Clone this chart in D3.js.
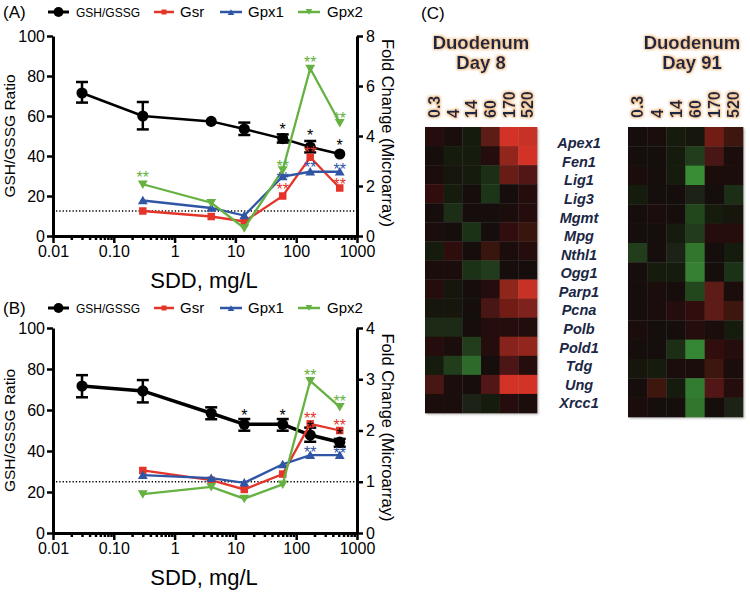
<!DOCTYPE html>
<html><head><meta charset="utf-8">
<script src="https://cdn.jsdelivr.net/npm/d3@7"></script>
<style>body{margin:0;background:#fff} svg{display:block;font-family:"Liberation Sans",Arial,sans-serif}</style>
</head><body><svg id="c" width="750" height="592"></svg>
<script>
// ---------- data ----------
const doses = [0.03, 0.3, 4, 14, 60, 170, 520];
const geneDoses = [0.3, 4, 14, 60, 170, 520];
const xTickValues = [0.01, 0.1, 1, 10, 100, 1000];
const xTickLabels = ["0.01", "0.10", "1", "10", "100", "1000"];
const leftTicks = [0, 20, 40, 60, 80, 100];

const A_gsh   = [71.5, 60, 57.3, 53.5, 48.7, 44.5, 41];
const A_gshLo = [66.7, 53.3, null, 50.5, 46.7, 41.8, null];
const A_gshHi = [77.0, 67.0, null, 56.7, 50.8, 47.5, null];
const A_gsr   = [1.0, 0.78, 0.58, 1.6, 3.15, 1.92];
const A_gpx1  = [1.42, 1.12, 0.82, 2.38, 2.57, 2.57];
const A_gpx2  = [2.07, 1.33, 0.32, 2.64, 6.7, 4.53];
const A_rightTicks = [0, 2, 4, 6, 8];

const B_gsh   = [71.7, 69.3, 58.4, 53, 53, 47.8, 44.3];
const B_gshLo = [66.2, 63.7, 55.5, 49.9, 49.9, 44.5, 42.1];
const B_gshHi = [77.0, 74.6, 61.3, 55.6, 55.6, 51.4, 45.9];
const B_gsr   = [1.22, 1.03, 0.85, 1.15, 2.13, 2.0];
const B_gpx1  = [1.13, 1.07, 0.98, 1.34, 1.52, 1.52];
const B_gpx2  = [0.76, 0.9, 0.67, 0.95, 2.97, 2.46];
const B_rightTicks = [0, 1, 2, 3, 4];

// significance marks: [series, dose, value (in that series' axis units), text]
const A_stars = [
  ["gsh", 60, 55, "*"], ["gsh", 170, 52.2, "*"], ["gsh", 520, 47.2, "*"],
  ["gsr", 60, 2.0, "**"], ["gsr", 170, 3.48, "**"], ["gsr", 520, 2.2, "**"],
  ["gpx1", 60, 2.45, "**"], ["gpx1", 170, 2.88, "**"], ["gpx1", 520, 2.8, "**"],
  ["gpx2", 0.3, 2.48, "**"], ["gpx2", 60, 2.93, "**"], ["gpx2", 170, 7.08, "**"], ["gpx2", 520, 4.84, "**"]
];
const B_stars = [
  ["gsh", 14, 59.2, "*"], ["gsh", 60, 59.2, "*"], ["gsh", 170, 53.2, "*"], ["gsh", 520, 49.9, "*"],
  ["gsr", 170, 2.3, "**"], ["gsr", 520, 2.17, "**"],
  ["gpx1", 170, 1.64, "**"], ["gpx1", 520, 1.62, "**"],
  ["gpx2", 170, 3.15, "**"], ["gpx2", 520, 2.64, "**"]
];

const legendLabels = ["GSH/GSSG", "Gsr", "Gpx1", "Gpx2"];

const genes = ["Apex1","Fen1","Lig1","Lig3","Mgmt","Mpg","Nthl1","Ogg1","Parp1","Pcna","Polb","Pold1","Tdg","Ung","Xrcc1"];
const heatCols = ["0.3","4","14","60","170","520"];
const day8 = [
  [0.10, 0.05, -0.10, 0.35, 0.90, 0.85],
  [0.00, -0.10, -0.10, 0.10, 0.60, 0.90],
  [0.05, -0.05, -0.10, -0.20, 0.40, 0.30],
  [0.15, -0.10, 0.00, -0.25, 0.00, 0.10],
  [0.00, -0.20, 0.03, 0.00, 0.05, 0.10],
  [0.05, 0.00, -0.22, 0.00, 0.15, 0.18],
  [-0.10, 0.13, 0.00, 0.18, 0.05, 0.10],
  [0.05, 0.05, -0.22, -0.28, 0.00, 0.03],
  [0.10, -0.08, 0.00, 0.10, 0.58, 0.85],
  [-0.05, -0.08, 0.00, 0.25, 0.45, 0.50],
  [-0.18, -0.18, 0.00, 0.10, 0.10, 0.08],
  [0.10, 0.05, -0.30, 0.10, 0.55, 0.60],
  [-0.10, -0.30, -0.55, 0.03, 0.28, 0.10],
  [0.25, 0.05, 0.03, 0.30, 0.90, 0.90],
  [0.05, 0.05, -0.15, -0.12, 0.10, 0.05]
];
const day91 = [
  [0.00, 0.05, -0.10, -0.05, 0.45, 0.20],
  [0.00, 0.00, -0.10, -0.30, 0.25, 0.05],
  [0.05, 0.00, -0.10, -0.75, 0.05, 0.05],
  [-0.10, 0.00, 0.00, -0.15, 0.00, -0.20],
  [0.00, 0.05, 0.00, -0.35, -0.10, -0.05],
  [0.03, 0.00, -0.10, -0.28, 0.10, 0.10],
  [-0.30, 0.00, -0.15, -0.62, 0.00, -0.10],
  [0.03, -0.10, -0.10, -0.68, 0.00, -0.22],
  [0.00, 0.05, 0.00, -0.35, 0.35, 0.05],
  [0.00, 0.05, 0.10, 0.15, 0.35, 0.20],
  [0.05, 0.00, 0.00, 0.10, 0.05, -0.10],
  [0.00, 0.00, -0.20, -0.72, 0.15, 0.10],
  [-0.05, -0.10, 0.05, 0.05, 0.20, 0.05],
  [0.00, 0.20, -0.10, -0.65, 0.30, 0.10],
  [0.05, 0.00, 0.00, -0.62, 0.00, -0.15]
];

// ---------- drawing ----------
const svg = d3.select("#c");
const defs = svg.append("defs");
const glow = defs.append("filter").attr("id","glow").attr("x","-20%").attr("y","-40%").attr("width","140%").attr("height","180%");
glow.append("feMorphology").attr("in","SourceAlpha").attr("operator","dilate").attr("radius",0.5).attr("result","d");
glow.append("feGaussianBlur").attr("in","d").attr("stdDeviation",1.2).attr("result","b");
glow.append("feFlood").attr("flood-color","#e9a04a").attr("flood-opacity",0.6);
glow.append("feComposite").attr("in2","b").attr("operator","in").attr("result","g");
const gm = glow.append("feMerge"); gm.append("feMergeNode").attr("in","g"); gm.append("feMergeNode").attr("in","SourceGraphic");
const soft = defs.append("filter").attr("id","soft").attr("x","-5%").attr("y","-5%").attr("width","110%").attr("height","110%");
soft.append("feGaussianBlur").attr("stdDeviation",0.7);
const shadow = defs.append("filter").attr("id","shadow").attr("x","-10%").attr("y","-10%").attr("width","120%").attr("height","120%");
shadow.append("feGaussianBlur").attr("stdDeviation",1.2);

const colors = {gsh:"#000000", gsr:"#e5352b", gpx1:"#2f55a4", gpx2:"#65b141"};
const x = d3.scaleLog().domain([0.01, 1000]).range([53, 357]);
const minorTicks = [];
[0.01, 0.1, 1, 10, 100].forEach(d => { for (let k = 2; k <= 9; k++) minorTicks.push(d * k); });

function marker(g, type, cx, cy, s, color) {
  if (type === "gsh") g.append("circle").attr("cx", cx).attr("cy", cy).attr("r", s * 0.62).attr("fill", color);
  else if (type === "gsr") g.append("rect").attr("x", cx - s/2).attr("y", cy - s/2).attr("width", s).attr("height", s).attr("fill", color);
  else if (type === "gpx1") g.append("path").attr("d", d3.symbol(d3.symbolTriangle, s*s*0.75)()).attr("transform", `translate(${cx},${cy+1})`).attr("fill", color);
  else g.append("path").attr("d", d3.symbol(d3.symbolTriangle, s*s*0.75)()).attr("transform", `translate(${cx},${cy-1}) rotate(180)`).attr("fill", color);
}

function panel(cfg) {
  const yL = d3.scaleLinear().domain([0, 100]).range([cfg.bottom, cfg.top]);
  const yR = d3.scaleLinear().domain([0, cfg.rmax]).range([cfg.bottom, cfg.top]);
  const g = svg.append("g");

  // reference line at fold change 1
  g.append("line").attr("x1", x(0.01) + 3).attr("x2", x(1000) - 2)
    .attr("y1", yR(1)).attr("y2", yR(1))
    .attr("stroke", "#000").attr("stroke-width", 1.3).attr("stroke-dasharray", "1.3,2");

  const styleAxis = a => {
    a.attr("font-family", '"Liberation Sans",Arial,sans-serif').attr("font-size", 16);
    a.selectAll("path").attr("stroke-width", 3).attr("stroke", "#000");
    a.selectAll("line").attr("stroke-width", 2.5).attr("stroke", "#000");
    a.selectAll("text").attr("fill", "#000");
  };
  styleAxis(g.append("g").attr("transform", `translate(0,${cfg.bottom})`)
    .call(d3.axisBottom(x).tickValues(minorTicks).tickFormat("").tickSize(4).tickSizeOuter(0)));
  styleAxis(g.append("g").attr("transform", `translate(0,${cfg.bottom})`)
    .call(d3.axisBottom(x).tickValues(xTickValues).tickFormat((d, i) => xTickLabels[i]).tickSize(7).tickPadding(3).tickSizeOuter(0)));
  styleAxis(g.append("g").attr("transform", `translate(${x(0.01)},0)`)
    .call(d3.axisLeft(yL).tickValues(leftTicks).tickFormat(d3.format("d")).tickSize(6).tickPadding(2).tickSizeOuter(0)));
  styleAxis(g.append("g").attr("transform", `translate(${x(1000)},0)`)
    .call(d3.axisRight(yR).tickValues(cfg.rticks).tickFormat(d3.format("d")).tickSize(6).tickPadding(3).tickSizeOuter(0)));

  // titles
  g.append("text").attr("transform", `translate(15,${(cfg.top + cfg.bottom) / 2}) rotate(-90)`)
    .attr("text-anchor", "middle").attr("font-size", 15.5).text("GSH/GSSG Ratio");
  g.append("text").attr("transform", `translate(382,${(cfg.top + cfg.bottom) / 2 - 3}) rotate(90)`)
    .attr("text-anchor", "middle").attr("font-size", 16.5).text("Fold Change (Microarray)");
  g.append("text").attr("x", 204).attr("y", cfg.bottom + 52).attr("text-anchor", "middle")
    .attr("font-size", 22).text("SDD, mg/L");

  // GSH/GSSG series with error bars
  const gshData = doses.map((d, i) => ({x: d, v: cfg.gsh[i], lo: cfg.lo[i], hi: cfg.hi[i]}));
  g.append("path").datum(gshData).attr("fill", "none").attr("stroke", "#000").attr("stroke-width", cfg.gshW)
    .attr("d", d3.line().x(d => x(d.x)).y(d => yL(d.v)));
  gshData.filter(d => d.lo != null).forEach(d => {
    const cx = x(d.x);
    g.append("line").attr("x1", cx).attr("x2", cx).attr("y1", yL(d.lo)).attr("y2", yL(d.hi)).attr("stroke", "#000").attr("stroke-width", 2.5);
    [d.lo, d.hi].forEach(v => g.append("line").attr("x1", cx - 6).attr("x2", cx + 6).attr("y1", yL(v)).attr("y2", yL(v)).attr("stroke", "#000").attr("stroke-width", 2.5));
  });
  gshData.forEach(d => marker(g, "gsh", x(d.x), yL(d.v), 9, "#000"));

  // fold change series
  [["gsr", cfg.gsr], ["gpx1", cfg.gpx1], ["gpx2", cfg.gpx2]].forEach(([k, vals]) => {
    const data = geneDoses.map((d, i) => ({x: d, v: vals[i]}));
    g.append("path").datum(data).attr("fill", "none").attr("stroke", colors[k]).attr("stroke-width", 2.3)
      .attr("d", d3.line().x(d => x(d.x)).y(d => yR(d.v)));
    data.forEach(d => marker(g, k, x(d.x), yR(d.v), 7.5, colors[k]));
  });

  // significance marks
  cfg.stars.forEach(([k, dose, v, t]) => {
    const yy = k === "gsh" ? yL(v) : yR(v);
    g.append("text").attr("x", x(dose)).attr("y", yy).attr("dy", "0.57em").attr("text-anchor", "middle")
      .attr("font-size", 16).attr("fill", colors[k]).text(t);
  });

  // legend
  const ly = cfg.legendY;
  g.append("text").attr("x", 3).attr("y", ly + 6).attr("font-size", 17).text(cfg.tag);
  const items = [
    {k: "gsh", x0: 48, x1: 69, tx: 76, fs: 12},
    {k: "gsr", x0: 154, x1: 174, tx: 180, fs: 15},
    {k: "gpx1", x0: 220, x1: 242, tx: 248, fs: 15},
    {k: "gpx2", x0: 298, x1: 320, tx: 327, fs: 15}
  ];
  items.forEach((it, i) => {
    g.append("line").attr("x1", it.x0).attr("x2", it.x1).attr("y1", ly).attr("y2", ly)
      .attr("stroke", colors[it.k]).attr("stroke-width", it.k === "gsh" ? 3 : 2.5);
    marker(g, it.k, (it.x0 + it.x1) / 2, ly, it.k === "gsh" ? 8 : 5, colors[it.k]);
    g.append("text").attr("x", it.tx).attr("y", ly + 5).attr("font-size", it.fs).text(legendLabels[i]);
  });
}

panel({tag: "(A)", legendY: 12, top: 36, bottom: 236, rmax: 8, rticks: A_rightTicks, gshW: 2.5,
  gsh: A_gsh, lo: A_gshLo, hi: A_gshHi, gsr: A_gsr, gpx1: A_gpx1, gpx2: A_gpx2, stars: A_stars});
panel({tag: "(B)", legendY: 308, top: 328, bottom: 533, rmax: 4, rticks: B_rightTicks, gshW: 3.5,
  gsh: B_gsh, lo: B_gshLo, hi: B_gshHi, gsr: B_gsr, gpx1: B_gpx1, gpx2: B_gpx2, stars: B_stars});

// ---------- heatmaps ----------
svg.append("text").attr("x", 421).attr("y", 19).attr("font-size", 17).text("(C)");
const heatColor = d3.scaleLinear().domain([-1, 0, 1]).range(["#44b844", "#120a0a", "#e8382a"]).clamp(true);
const navy = "#1b2744";

function heatmap(data, x0, x1, y0, y1, dayLabel, titleX) {
  const g = svg.append("g");
  const cx = d3.scaleBand().domain(heatCols).range([x0, x1]);
  const ry = d3.scaleBand().domain(genes).range([y0, y1]);
  g.append("rect").attr("x", x0 + 1.5).attr("y", y0 + 1.5).attr("width", x1 - x0).attr("height", y1 - y0)
    .attr("fill", "#b9b9b9").attr("filter", "url(#shadow)");
  const cells = g.append("g").attr("filter", "url(#soft)");
  data.forEach((row, r) => row.forEach((v, c) => {
    cells.append("rect").attr("x", cx(heatCols[c])).attr("y", ry(genes[r]))
      .attr("width", cx.bandwidth() + 0.3).attr("height", ry.bandwidth() + 0.3).attr("fill", heatColor(v));
  }));
  const t = g.append("g").attr("filter", "url(#glow)").attr("fill", navy).attr("font-weight", "bold");
  t.append("text").attr("x", titleX).attr("y", 49).attr("text-anchor", "middle").attr("font-size", 18.5).text("Duodenum");
  t.append("text").attr("x", titleX).attr("y", 69).attr("text-anchor", "middle").attr("font-size", 18.5).text(dayLabel);
  heatCols.forEach(c => {
    t.append("text").attr("transform", `translate(${cx(c) + cx.bandwidth() / 2},118) rotate(-90)`)
      .attr("dy", "0.36em").attr("font-size", 16).text(c);
  });
}
heatmap(day8, 425, 537, 127, 413, "Day 8", 481);
heatmap(day91, 628, 743, 127, 417, "Day 91", 692);

const gl = d3.scalePoint().domain(genes).range([143, 403]);
svg.append("g").attr("fill", navy).attr("font-weight", "bold").attr("font-style", "italic").attr("font-size", 14.5)
  .selectAll("text").data(genes).join("text")
  .attr("x", 579).attr("y", d => gl(d)).attr("dy", "0.36em").attr("text-anchor", "middle").text(d => d);
</script></body></html>
